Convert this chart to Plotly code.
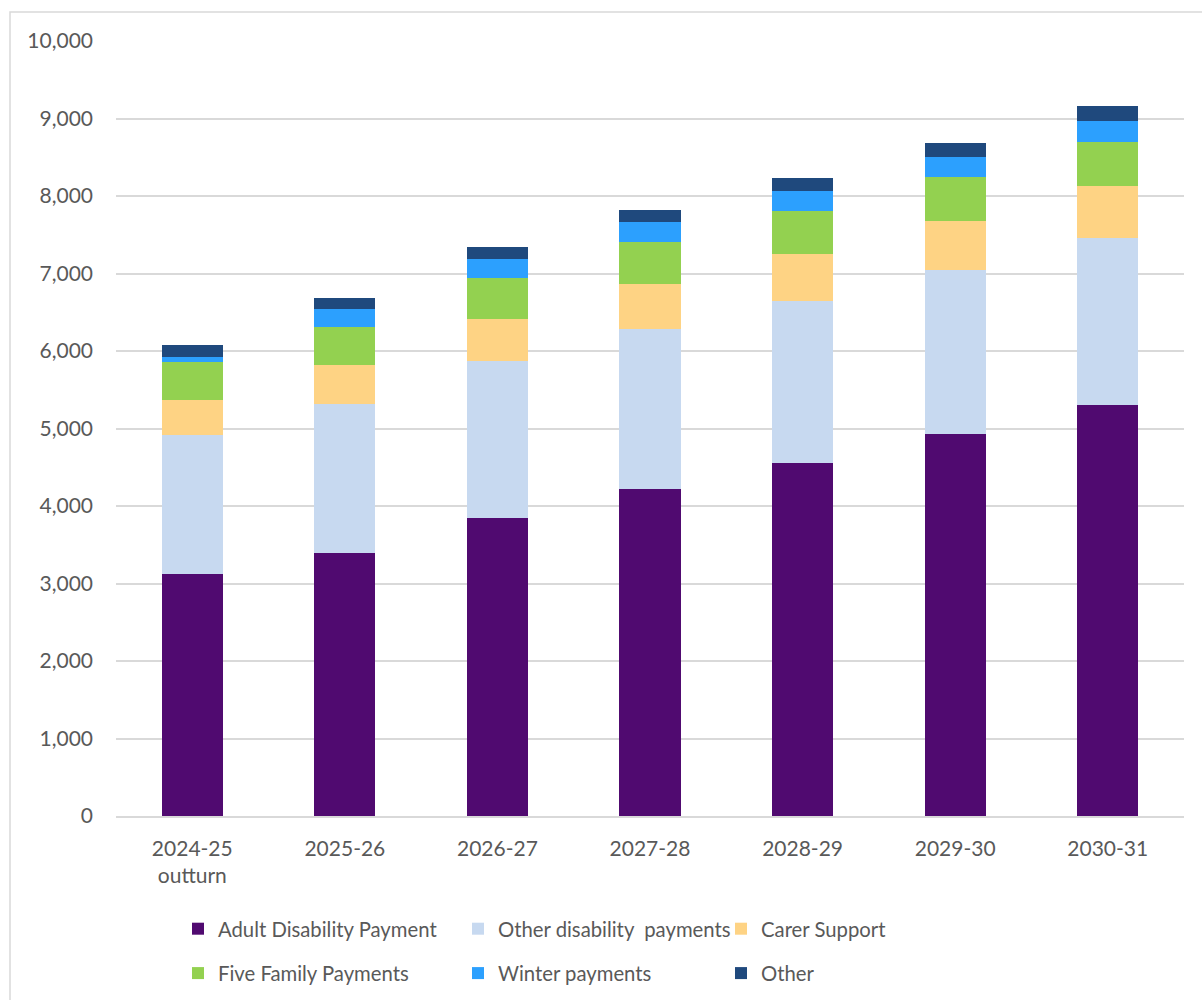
import plotly.graph_objects as go

categories = ["2024-25<br>outturn", "2025-26", "2026-27", "2027-28", "2028-29", "2029-30", "2030-31"]
adult_disability = [3127, 3389, 3845, 4219, 4558, 4923, 5306]
other_disability = [1792, 1926, 2020, 2063, 2085, 2128, 2158]
carer_support = [448, 498, 550, 581, 607, 632, 666]
five_family = [494, 499, 525, 549, 558, 563, 564]
winter = [68, 232, 245, 254, 254, 262, 278]
other = [151, 142, 155, 155, 167, 177, 190]

series = [
    ("Adult Disability Payment", adult_disability, "#500A70", "legend"),
    ("Other disability  payments", other_disability, "#C7D9F0", "legend2"),
    ("Carer Support", carer_support, "#FED384", "legend3"),
    ("Five Family Payments", five_family, "#93D150", "legend"),
    ("Winter payments", winter, "#2CA0FE", "legend2"),
    ("Other", other, "#1F497D", "legend3"),
]

W, H = 1202, 1000
L, R, T, B = 116, 1184, 41, 816.5
def px(x):
    return (x - L) / (R - L)
def py(y):
    return (B - y) / (B - T)

fig = go.Figure()
for i, (name, vals, col, lg) in enumerate(series):
    fig.add_trace(go.Bar(
        x=categories, y=vals, name=name,
        marker=dict(color=col, line=dict(width=0)),
        legend=lg, legendgroup=f"g{i}",
    ))

font_family = "Lato, 'Open Sans', sans-serif"
legend_common = dict(
    orientation="v", traceorder="grouped", tracegroupgap=15,
    font=dict(family=font_family, size=20.3, color="#595959"),
    bgcolor="rgba(0,0,0,0)", xanchor="left", yanchor="top",
    xref="container", yref="container",
    itemclick=False, itemdoubleclick=False,
)
leg_top = 1 - 909 / H

fig.update_layout(
    width=W, height=H,
    margin=dict(l=L, r=W - R, t=T, b=H - B, autoexpand=False),
    paper_bgcolor="white", plot_bgcolor="white",
    barmode="stack", bargap=0.6,
    font=dict(family=font_family, size=21, color="#595959"),
    xaxis=dict(
        automargin=False,
        showgrid=False, showline=True, linecolor="#D9D9D9", linewidth=1.5,
        tickfont=dict(size=21, color="#595959"), ticks="", ticklabelstandoff=13,
    ),
    yaxis=dict(
        automargin=False,
        range=[0, 10000], dtick=1000, tickformat=",d",
        showgrid=True, gridcolor="#D9D9D9", gridwidth=1.5,
        zeroline=False, showline=False, ticks="",
        tickfont=dict(size=21, color="#595959"), ticklabelstandoff=22,
    ),
    legend=dict(x=178 / W, y=leg_top, **legend_common),
    legend2=dict(x=458 / W, y=leg_top, **legend_common),
    legend3=dict(x=721 / W, y=leg_top, **legend_common),
    shapes=[dict(
        type="rect", xref="paper", yref="paper",
        x0=px(10), x1=px(1230), y0=py(1030), y1=py(12),
        line=dict(color="#D9D9D9", width=1.5), fillcolor="rgba(0,0,0,0)", layer="below",
    )],
    showlegend=True,
)

fig.write_html("out.html")
